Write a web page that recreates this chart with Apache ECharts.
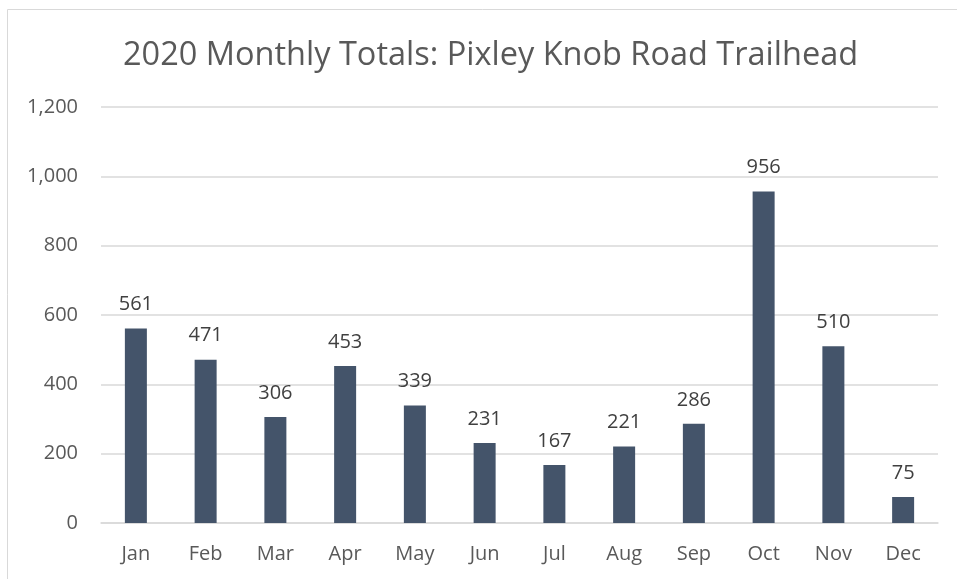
<!DOCTYPE html>
<html>
<head>
<meta charset="utf-8">
<script src="https://cdn.jsdelivr.net/npm/echarts@6/dist/echarts.min.js"></script>
<style>
	html, body { margin: 0; padding: 0; background: #fff; }
	#chart { width: 957px; height: 579px; }
</style>
</head>
<body>
<div id="chart"></div>
<script>
	const months = ['Jan', 'Feb', 'Mar', 'Apr', 'May', 'Jun', 'Jul', 'Aug', 'Sep', 'Oct', 'Nov', 'Dec'];
	const totals = [561, 471, 306, 453, 339, 231, 167, 221, 286, 956, 510, 75];

	const font = '"Open Sans", "Noto Sans", sans-serif';
	const chart = echarts.init(document.getElementById('chart'));
	const option = {
		animation: false,
		textStyle: { fontFamily: font },
		graphic: [
			{
				type: 'rect',
				shape: { x: 7.5, y: 9.5, width: 1000, height: 1000 },
				style: { fill: 'none', stroke: '#d9d9d9', lineWidth: 1 }
			}
		],
		title: {
			text: '2020 Monthly Totals: Pixley Knob Road Trailhead',
			left: 118,
			top: 34,
			textStyle: { fontFamily: font, fontSize: 32.5, fontWeight: 'normal', color: '#595959' }
		},
		grid: { left: 101, right: 19, top: 107, bottom: 56 },
		xAxis: {
			type: 'category',
			data: months,
			axisTick: { show: false },
			axisLine: { lineStyle: { color: '#d9d9d9', width: 1.5 } },
			axisLabel: { color: '#595959', fontSize: 20, margin: 21, fontFamily: font }
		},
		yAxis: {
			type: 'value',
			min: 0,
			max: 1200,
			interval: 200,
			axisLine: { show: false },
			axisTick: { show: false },
			splitLine: { lineStyle: { color: '#d9d9d9', width: 1.5 } },
			axisLabel: {
				color: '#595959', fontSize: 20, margin: 23, fontFamily: font,
				formatter: v => v.toLocaleString('en-US')
			}
		},
		series: [
			{
				type: 'bar',
				data: totals,
				barWidth: 22,
				itemStyle: { color: '#44546a' },
				label: {
					show: true,
					position: 'top',
					distance: 14,
					color: '#404040',
					fontSize: 20,
					fontFamily: font
				}
			}
		]
	};
	chart.setOption(option);
	window.addEventListener('resize', () => {
		chart.resize();
	});
</script>
</body>
</html>
